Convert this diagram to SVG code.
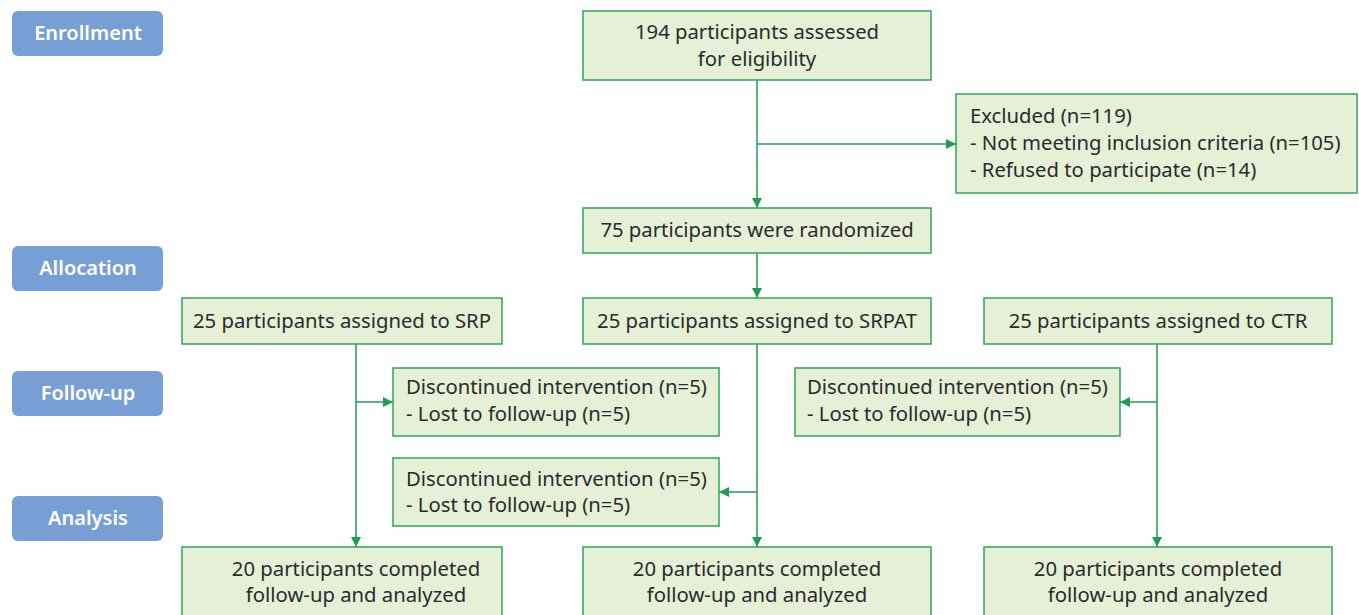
<svg xmlns="http://www.w3.org/2000/svg" width="1359" height="615" viewBox="0 0 1359 615">
<defs>
<style>
.lbl rect{fill:#779fd6;}
.lbl text{fill:#fff;font-family:"Noto Sans",sans-serif;font-size:20px;font-weight:600;text-anchor:middle;}
.box rect{fill:#e5f0d6;stroke:#2ea55c;stroke-width:1.5;}
.box text{fill:#2b2b2b;font-family:"Noto Sans",sans-serif;font-size:20.3px;}
.c{text-anchor:middle;}
.conn{stroke:#1f9e4f;stroke-width:1.5;fill:none;}
</style>
<marker id="ah" viewBox="0 0 10 10" refX="10" refY="5" markerWidth="10" markerHeight="10" markerUnits="userSpaceOnUse" orient="auto">
<path d="M0,0 L10,5 L0,10 Z" fill="#1f9e4f"/>
</marker>
</defs>
<rect width="1359" height="615" fill="#fff"/>
<g id="lbl-enrollment" class="lbl"><rect x="12" y="11" width="151" height="45" rx="6"/><text x="88" y="40">Enrollment</text></g>
<g id="lbl-allocation" class="lbl"><rect x="12" y="246" width="151" height="45" rx="6"/><text x="88" y="275">Allocation</text></g>
<g id="lbl-followup" class="lbl"><rect x="12" y="371" width="151" height="45" rx="6"/><text x="88" y="400">Follow-up</text></g>
<g id="lbl-analysis" class="lbl"><rect x="12" y="496" width="151" height="45" rx="6"/><text x="88" y="525">Analysis</text></g>

<g id="connectors">
<line class="conn" x1="757" y1="80" x2="757" y2="208" marker-end="url(#ah)"/>
<line class="conn" x1="757" y1="144" x2="956" y2="144" marker-end="url(#ah)"/>
<line class="conn" x1="757" y1="253" x2="757" y2="298" marker-end="url(#ah)"/>
<line class="conn" x1="356" y1="344" x2="356" y2="547" marker-end="url(#ah)"/>
<line class="conn" x1="356" y1="402" x2="393" y2="402" marker-end="url(#ah)"/>
<line class="conn" x1="757" y1="344" x2="757" y2="547" marker-end="url(#ah)"/>
<line class="conn" x1="757" y1="492" x2="719" y2="492" marker-end="url(#ah)"/>
<line class="conn" x1="1157" y1="344" x2="1157" y2="547" marker-end="url(#ah)"/>
<line class="conn" x1="1157" y1="402" x2="1120" y2="402" marker-end="url(#ah)"/>
</g>

<g id="n-assessed" class="box"><rect x="583" y="11" width="348" height="69"/><text class="c" x="757" y="39">194 participants assessed</text><text class="c" x="757" y="66">for eligibility</text></g>
<g id="n-excluded" class="box"><rect x="956" y="94" width="401" height="99"/><text x="970" y="123">Excluded (n=119)</text><text x="970" y="150">- Not meeting inclusion criteria (n=105)</text><text x="970" y="177">- Refused to participate (n=14)</text></g>
<g id="n-randomized" class="box"><rect x="583" y="208" width="348" height="45"/><text class="c" x="757" y="237">75 participants were randomized</text></g>
<g id="n-srp" class="box"><rect x="182" y="298" width="320" height="46"/><text class="c" x="342" y="328">25 participants assigned to SRP</text></g>
<g id="n-srpat" class="box"><rect x="583" y="298" width="348" height="46"/><text class="c" x="757" y="328">25 participants assigned to SRPAT</text></g>
<g id="n-ctr" class="box"><rect x="984" y="298" width="348" height="46"/><text class="c" x="1158" y="328">25 participants assigned to CTR</text></g>
<g id="n-disc-srp" class="box"><rect x="393" y="368" width="326" height="68"/><text x="406" y="394">Discontinued intervention (n=5)</text><text x="406" y="421">- Lost to follow-up (n=5)</text></g>
<g id="n-disc-ctr" class="box"><rect x="795" y="368" width="325" height="68"/><text x="807" y="394">Discontinued intervention (n=5)</text><text x="807" y="421">- Lost to follow-up (n=5)</text></g>
<g id="n-disc-srpat" class="box"><rect x="393" y="458" width="326" height="68"/><text x="406" y="486">Discontinued intervention (n=5)</text><text x="406" y="512">- Lost to follow-up (n=5)</text></g>
<g id="n-done-srp" class="box"><rect x="182" y="547" width="320" height="80"/><text class="c" x="356" y="576">20 participants completed</text><text class="c" x="356" y="602">follow-up and analyzed</text></g>
<g id="n-done-srpat" class="box"><rect x="583" y="547" width="348" height="80"/><text class="c" x="757" y="576">20 participants completed</text><text class="c" x="757" y="602">follow-up and analyzed</text></g>
<g id="n-done-ctr" class="box"><rect x="984" y="547" width="348" height="80"/><text class="c" x="1158" y="576">20 participants completed</text><text class="c" x="1158" y="602">follow-up and analyzed</text></g>
</svg>
